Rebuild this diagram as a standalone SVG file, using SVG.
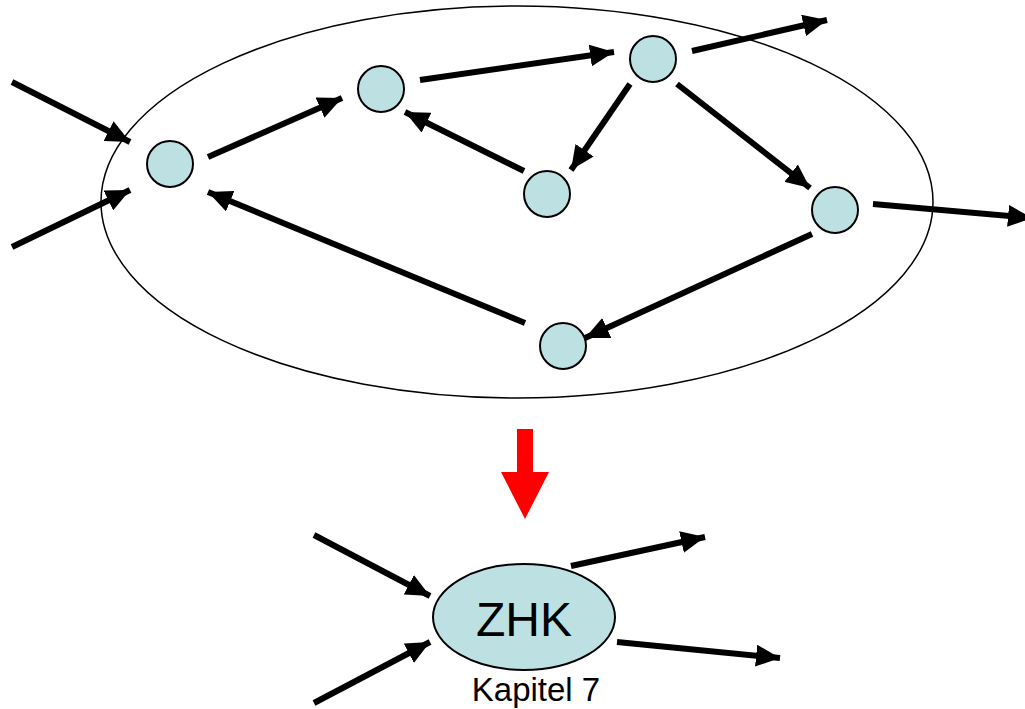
<svg xmlns="http://www.w3.org/2000/svg" width="1025" height="709" viewBox="0 0 1025 709">
<style>
.node{fill:#bde0e2;stroke:#000;stroke-width:2}
.edge{stroke:#000;stroke-width:6;fill:none;marker-end:url(#ah)}
.lbl{font-family:"Liberation Sans",Arial,sans-serif;fill:#000;text-anchor:middle}
</style>
<defs>
<marker id="ah" markerUnits="userSpaceOnUse" markerWidth="26" markerHeight="22" refX="24" refY="11" orient="auto" viewBox="0 0 26 22">
<path d="M0,0 L24,11 L0,22 Z" fill="#000"/>
</marker>
</defs>
<g id="scc-boundary">
<ellipse cx="517" cy="202" rx="416" ry="196" fill="none" stroke="#000" stroke-width="1.5"/>
</g>
<g id="connectors">
<line class="edge" x1="12" y1="82" x2="130" y2="142"/>
<line class="edge" x1="12" y1="247" x2="130" y2="190"/>
<line class="edge" x1="208" y1="157" x2="342" y2="98"/>
<line class="edge" x1="420" y1="80" x2="614" y2="52"/>
<line class="edge" x1="630" y1="84" x2="571" y2="170"/>
<line class="edge" x1="524" y1="171" x2="405" y2="112"/>
<line class="edge" x1="677" y1="84" x2="810" y2="188"/>
<line class="edge" x1="873" y1="204" x2="1032" y2="218"/>
<line class="edge" x1="692" y1="51" x2="827" y2="20"/>
<line class="edge" x1="812" y1="234" x2="585" y2="338"/>
<line class="edge" x1="525" y1="323" x2="208" y2="192"/>
<line class="edge" x1="314" y1="535" x2="430" y2="596"/>
<line class="edge" x1="314" y1="703" x2="430" y2="642"/>
<line class="edge" x1="571" y1="566" x2="705" y2="537"/>
<line class="edge" x1="617" y1="642" x2="780" y2="658"/>
</g>
<g id="n1"><circle class="node" cx="170" cy="164" r="23"/></g>
<g id="n2"><circle class="node" cx="381" cy="89" r="23"/></g>
<g id="n3"><circle class="node" cx="653" cy="59" r="23"/></g>
<g id="n4"><circle class="node" cx="547" cy="194" r="23"/></g>
<g id="n5"><circle class="node" cx="835" cy="210" r="23"/></g>
<g id="n6"><circle class="node" cx="563" cy="346" r="23"/></g>
<g id="red-arrow">
<path d="M517,429 L533,429 L533,472 L549,472 L525,519 L501,472 L517,472 Z" fill="#ff0000"/>
</g>
<g id="zhk">
<ellipse class="node" cx="524" cy="617" rx="91" ry="53"/>
<text class="lbl" x="524" y="636" font-size="48">ZHK</text>
</g>
<g id="caption">
<text class="lbl" x="536" y="701" font-size="33">Kapitel 7</text>
</g>
</svg>
